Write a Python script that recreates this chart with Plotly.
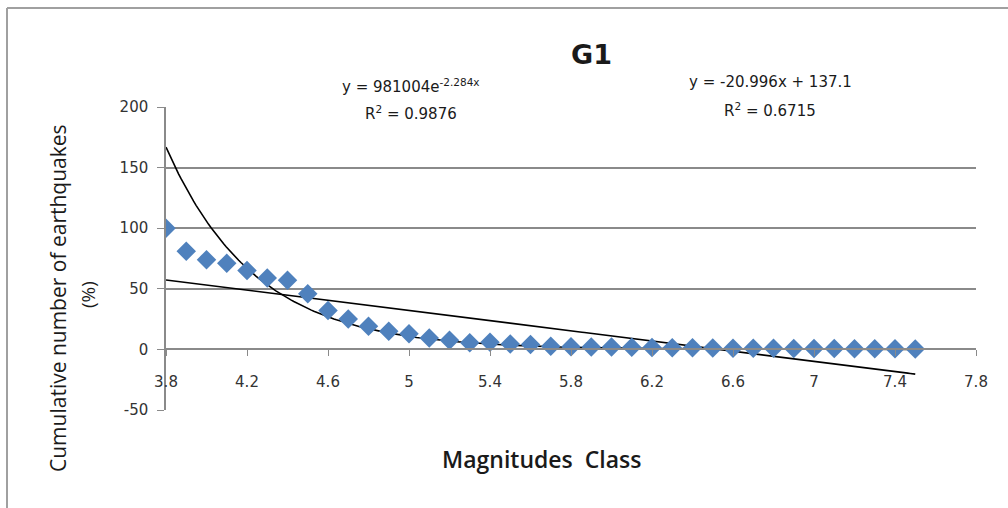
import numpy as np
import plotly.graph_objects as go

# ---- data ----
magnitudes = [3.8, 3.9, 4.0, 4.1, 4.2, 4.3, 4.4, 4.5, 4.6, 4.7, 4.8, 4.9, 5.0, 5.1,
              5.2, 5.3, 5.4, 5.5, 5.6, 5.7, 5.8, 5.9, 6.0, 6.1, 6.2, 6.3, 6.4, 6.5,
              6.6, 6.7, 6.8, 6.9, 7.0, 7.1, 7.2, 7.3, 7.4, 7.5]
cumulative_pct = [100, 81, 74, 71, 65, 59, 57, 46, 32, 25, 19, 15, 13, 9.5,
                  7.5, 5.5, 6, 4.5, 4, 2.5, 2.2, 2, 2, 1.8, 1.6, 1.4, 1.3, 1.2,
                  1.0, 1.0, 0.9, 0.8, 0.8, 0.7, 0.6, 0.5, 0.5, 0.4]

# trendline coefficients as displayed in the chart
exp_a, exp_b = 981004, -2.284
lin_m, lin_c = -20.996, 137.1

x_ticks = [3.8, 4.2, 4.6, 5.0, 5.4, 5.8, 6.2, 6.6, 7.0, 7.4, 7.8]
x_tick_labels = ["3.8", "4.2", "4.6", "5", "5.4", "5.8", "6.2", "6.6", "7", "7.4", "7.8"]
y_ticks = [-50, 0, 50, 100, 150, 200]
y_tick_labels = ["-50", "0", "50", "100", "150", "200"]

xt = np.linspace(min(magnitudes), max(magnitudes), 300)
exp_fit = exp_a * np.exp(exp_b * xt)
lin_fit = lin_m * xt + lin_c

fig = go.Figure()
fig.add_trace(go.Scatter(x=xt, y=exp_fit, mode="lines",
                         line=dict(color="black", width=1.6), showlegend=False,
                         hoverinfo="skip"))
fig.add_trace(go.Scatter(x=xt, y=lin_fit, mode="lines",
                         line=dict(color="black", width=1.6), showlegend=False,
                         hoverinfo="skip"))
fig.add_trace(go.Scatter(x=magnitudes, y=cumulative_pct, mode="markers",
                         marker=dict(symbol="diamond", size=15, color="#4F81BD",
                                     line=dict(width=0)),
                         showlegend=False))

grid_col = "#8a8a8a"
tick_font = dict(family="DejaVu Sans", size=15, color="#333333")

fig.update_layout(
    width=1008, height=508,
    margin=dict(l=166, r=32, t=107, b=98),
    paper_bgcolor="white", plot_bgcolor="white",
    xaxis=dict(range=[3.8, 7.8], tickvals=x_ticks, ticktext=x_tick_labels,
               showgrid=False, zeroline=False, showline=True, linecolor=grid_col,
               linewidth=1.5, ticks="outside", ticklen=6, tickcolor=grid_col,
               anchor="free", position=0.2, ticklabelstandoff=13,
               tickfont=tick_font),
    yaxis=dict(range=[-50, 200], tickvals=y_ticks, ticktext=y_tick_labels,
               showgrid=True, gridcolor=grid_col, gridwidth=1.5, zeroline=False,
               showline=True, linecolor=grid_col, linewidth=1.5,
               ticks="outside", ticklen=7, tickcolor=grid_col,
               ticklabelstandoff=6, tickfont=tick_font),
)

annotations = [
    dict(text="<b>G1</b>", xpx=591, ypx=54, size=27, family="DejaVu Sans", angle=0, weight=None),
    dict(text="y = 981004e<sup>-2.284x</sup>", xpx=411, ypx=86, size=15, family="DejaVu Sans", angle=0, weight=None),
    dict(text="R<sup>2</sup> = 0.9876", xpx=411, ypx=113, size=15, family="DejaVu Sans", angle=0, weight=None),
    dict(text="y = -20.996x + 137.1", xpx=770, ypx=82, size=15, family="DejaVu Sans", angle=0, weight=None),
    dict(text="R<sup>2</sup> = 0.6715", xpx=770, ypx=110, size=15, family="DejaVu Sans", angle=0, weight=None),
    dict(text="Magnitudes  Class", xpx=541, ypx=459, size=23, family="Open Sans", angle=0, weight=600),
    dict(text="Cumulative number of earthquakes", xpx=58, ypx=298, size=21, family="Open Sans", angle=-90, weight=None),
    dict(text="(%)", xpx=88, ypx=295, size=19, family="Open Sans", angle=-90, weight=None),
]
pw, ph = 1008 - 166 - 32, 508 - 107 - 98
for a in annotations:
    f = dict(family=a["family"], size=a["size"], color="#1a1a1a")
    if a["weight"]:
        f["weight"] = a["weight"]
    fig.add_annotation(
        x=(a["xpx"] - 166) / pw, y=1 - (a["ypx"] - 107) / ph,
        xref="paper", yref="paper", xanchor="center", yanchor="middle",
        text=a["text"], showarrow=False, textangle=a["angle"], font=f)

# outer chart border (top and left edges visible)
bx0 = (7 - 166) / pw
by0 = 1 + (107 - 8) / ph
fig.add_shape(type="line", xref="paper", yref="paper", x0=bx0, x1=1.2, y0=by0, y1=by0,
              line=dict(color="#a0a0a0", width=2))
fig.add_shape(type="line", xref="paper", yref="paper", x0=bx0, x1=bx0, y0=by0, y1=-0.5,
              line=dict(color="#a0a0a0", width=2))

fig.write_html("out.html")
